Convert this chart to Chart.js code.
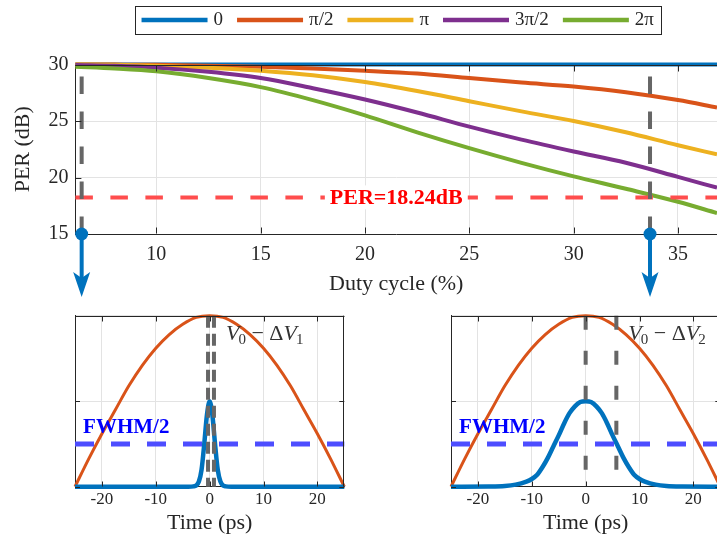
<!DOCTYPE html>
<html>
<head>
<meta charset="utf-8">
<script src="https://cdn.jsdelivr.net/npm/chart.js@4.4.1/dist/chart.umd.min.js"></script>
<style>
  html, body { margin: 0; padding: 0; background: #fff; width: 717px; height: 543px; overflow: hidden; position: relative; }
  canvas { position: absolute; }
  #per { left: 0; top: 0; }
  #pulse1 { left: 0; top: 300px; }
  #pulse2 { left: 376px; top: 300px; }
</style>
</head>
<body>
<canvas id="per" width="717" height="300"></canvas>
<canvas id="pulse1" width="360" height="243"></canvas>
<canvas id="pulse2" width="360" height="243"></canvas>
<script>
// ---- top panel: PER vs duty cycle, one curve per phase ----
var phaseLabels = ['0', 'π/2', 'π', '3π/2', '2π'];
var duty = [6.12, 8, 10, 12.5, 15, 17.5, 20, 22.5, 25, 27.5, 30, 32.5, 35, 36.87];
var perPhase0   = [30, 30, 30, 30, 30, 30, 30, 30, 30, 30, 30, 30, 30, 30];
var perPhaseH   = [30, 29.99, 29.97, 29.9, 29.8, 29.65, 29.45, 29.2, 28.8, 28.4, 28.05, 27.55, 26.85, 26.2];
var perPhasePi  = [30, 29.97, 29.9, 29.72, 29.45, 29.05, 28.45, 27.65, 26.75, 25.85, 25.0, 24.0, 22.85, 22.05];
var perPhase3H  = [29.95, 29.88, 29.72, 29.35, 28.8, 27.9, 26.9, 25.75, 24.5, 23.35, 22.3, 21.3, 20.05, 19.1];
var perPhase2Pi = [29.8, 29.65, 29.4, 28.8, 28.0, 26.85, 25.5, 24.0, 22.6, 21.3, 20.1, 19.0, 17.85, 16.85];
var dutyTicks = [10, 15, 20, 25, 30, 35];
var perTicks = [15, 20, 25, 30];
var perLimit = 18.24;
var dutyMarks = [6.42, 33.66];

// ---- bottom panels: drive and optical pulse vs time ----
var timePs = [-25, -22.5, -20, -17.5, -15, -12.5, -10, -7.5, -5, -2.5, 0, 2.5, 5, 7.5, 10, 12.5, 15, 17.5, 20, 22.5, 25];
var drive  = [0, 0.16, 0.31, 0.45, 0.59, 0.71, 0.81, 0.89, 0.95, 0.99, 1, 0.99, 0.95, 0.89, 0.81, 0.71, 0.59, 0.45, 0.31, 0.16, 0];
var t1 = [-25, -4, -3, -2.5, -2, -1.5, -1, -0.5, 0, 0.5, 1, 1.5, 2, 2.5, 3, 4, 25];
var p1 = [0, 0, 0.002, 0.007, 0.03, 0.1, 0.25, 0.42, 0.5, 0.42, 0.25, 0.1, 0.03, 0.007, 0.002, 0, 0];
var t2 = [-25, -18, -15, -13, -11, -10, -9, -8, -7, -6, -5, -4, -3, -2, -1, 0, 1, 2, 3, 4, 5, 6, 7, 8, 9, 10, 11, 13, 15, 18, 25];
var p2 = [0, 0.001, 0.004, 0.012, 0.03, 0.045, 0.07, 0.115, 0.17, 0.235, 0.3, 0.37, 0.43, 0.47, 0.495, 0.5, 0.495, 0.47, 0.43, 0.37, 0.3, 0.235, 0.17, 0.115, 0.07, 0.045, 0.03, 0.012, 0.004, 0.001, 0];
var marks1 = [-0.3, 0.8];
var marks2 = [0, 5.7];
var timeTicks = [-20, -10, 0, 10, 20];
var levelTicks = [0, 0.5, 1];
var halfLevel = 0.25;

Chart.defaults.font.family = "'Liberation Serif', serif";
Chart.defaults.color = '#262626';
Chart.defaults.animation = false;

var INK = '#262626', GRID = '#e3e3e3';
var colors = ['#0072BD', '#D95319', '#EDB120', '#7E2F8E', '#77AC30'];

function fixedTicks(values) {
  return function (scale) { scale.ticks = values.map(function (v) { return { value: v }; }); };
}
function pts(xs, ys) {
  return xs.map(function (x, i) { return { x: x, y: ys[i] }; });
}
function dashLine(ctx, x1, y1, x2, y2, dash, color, width) {
  ctx.save();
  ctx.strokeStyle = color; ctx.lineWidth = width; ctx.setLineDash(dash);
  ctx.beginPath(); ctx.moveTo(x1, y1); ctx.lineTo(x2, y2); ctx.stroke();
  ctx.restore();
}
function boxAndTicks(chart, len, withRight) {
  var ctx = chart.ctx, a = chart.chartArea, xs = chart.scales.x, ys = chart.scales.y;
  ctx.save();
  ctx.strokeStyle = INK; ctx.lineWidth = 1; ctx.setLineDash([]);
  ctx.beginPath();
  var top = Math.round(a.top) + 0.5, bot = Math.round(a.bottom) - 0.5;
  xs.ticks.forEach(function (t) {
    var x = Math.round(xs.getPixelForValue(t.value)) + 0.5;
    ctx.moveTo(x, bot); ctx.lineTo(x, bot - len);
    ctx.moveTo(x, top); ctx.lineTo(x, top + len);
  });
  ys.ticks.forEach(function (t) {
    var y = Math.round(ys.getPixelForValue(t.value)) + 0.5;
    ctx.moveTo(a.left, y); ctx.lineTo(a.left + len, y);
    if (withRight) { ctx.moveTo(a.right, y); ctx.lineTo(a.right - len, y); }
  });
  ctx.moveTo(a.left, top); ctx.lineTo(a.right, top);
  if (withRight) { var r = Math.round(a.right) - 0.5; ctx.moveTo(r, a.top); ctx.lineTo(r, a.bottom); }
  ctx.stroke();
  ctx.restore();
}

var perDecor = {
  id: 'perDecor',
  afterDatasetsDraw: function (chart) {
    var ctx = chart.ctx, a = chart.chartArea, xs = chart.scales.x, ys = chart.scales.y;
    var yT = ys.getPixelForValue(perLimit);
    dashLine(ctx, a.left, yT, a.right, yT, [17.5, 17.5], '#ff4d4d', 4);
    dutyMarks.forEach(function (d) {
      var x = xs.getPixelForValue(d);
      dashLine(ctx, x, a.bottom, x, a.top, [17.5, 17.5], '#666666', 4);
    });
    // threshold label
    ctx.save();
    ctx.font = "bold 22px 'Liberation Serif'";
    var txt = 'PER=' + perLimit + 'dB';
    var w = ctx.measureText(txt).width;
    var cx = xs.getPixelForValue(21.5);
    ctx.fillStyle = '#ffffff';
    ctx.fillRect(cx - w / 2 - 5, yT - 12, w + 10, 24);
    ctx.fillStyle = '#ff0000';
    ctx.textAlign = 'center'; ctx.textBaseline = 'middle';
    ctx.fillText(txt, cx, yT + 1);
    ctx.restore();
    boxAndTicks(chart, 6, false);
  },
  afterDraw: function (chart) {
    var ctx = chart.ctx, a = chart.chartArea, xs = chart.scales.x;
    ctx.save();
    // arrows to the pulse panels
    ctx.fillStyle = colors[0]; ctx.strokeStyle = colors[0];
    dutyMarks.forEach(function (d) {
      var x = xs.getPixelForValue(d);
      ctx.lineWidth = 4;
      ctx.beginPath(); ctx.moveTo(x, a.bottom); ctx.lineTo(x, 278); ctx.stroke();
      ctx.beginPath(); ctx.arc(x, a.bottom, 6.5, 0, Math.PI * 2); ctx.fill();
      ctx.beginPath();
      ctx.moveTo(x, 297); ctx.lineTo(x - 8.5, 272); ctx.lineTo(x, 278); ctx.lineTo(x + 8.5, 272);
      ctx.closePath(); ctx.fill();
    });
    // legend
    ctx.font = "19px 'Liberation Serif'";
    var lineLen = 66, txtGap = 6, itemGap = 14, pad = 7;
    var widths = phaseLabels.map(function (l) { return ctx.measureText(l).width; });
    var total = 0;
    widths.forEach(function (w, i) { total += lineLen + txtGap + w + (i ? itemGap : 0); });
    var x0 = 397.75 - total / 2;
    ctx.fillStyle = '#ffffff';
    ctx.fillRect(x0 - pad, 6, total + 2 * pad, 28);
    ctx.strokeStyle = INK; ctx.lineWidth = 1;
    ctx.strokeRect(Math.round(x0 - pad) + 0.5, 6.5, Math.round(total + 2 * pad), 28);
    var x = x0;
    ctx.textBaseline = 'middle'; ctx.textAlign = 'left';
    phaseLabels.forEach(function (l, i) {
      ctx.strokeStyle = colors[i]; ctx.lineWidth = 4.5;
      ctx.beginPath(); ctx.moveTo(x, 20); ctx.lineTo(x + lineLen, 20); ctx.stroke();
      ctx.fillStyle = INK;
      ctx.fillText(l, x + lineLen + txtGap, 20);
      x += lineLen + txtGap + widths[i] + itemGap;
    });
    ctx.restore();
  }
};

var perSeries = [perPhase0, perPhaseH, perPhasePi, perPhase3H, perPhase2Pi];
new Chart(document.getElementById('per'), {
  type: 'line',
  data: {
    datasets: perSeries.map(function (s, i) {
      return {
        label: phaseLabels[i], data: pts(duty, s), borderColor: colors[i],
        borderWidth: 4, pointRadius: 0, cubicInterpolationMode: 'monotone',
        order: perSeries.length - 1 - i, clip: false
      };
    })
  },
  options: {
    responsive: false, devicePixelRatio: 1,
    layout: { padding: { top: 64.5, left: 0, right: 0, bottom: 0 } },
    plugins: { legend: { display: false }, tooltip: { enabled: false } },
    scales: {
      x: {
        type: 'linear', min: duty[0], max: duty[duty.length - 1],
        afterBuildTicks: fixedTicks(dutyTicks),
        afterFit: function (s) { s.height = 66; },
        grid: { color: GRID, drawTicks: false },
        border: { color: INK, width: 1 },
        ticks: { font: { size: 20 }, padding: 9, color: INK },
        title: { display: true, text: 'Duty cycle (%)', font: { size: 22 }, padding: { top: 0, bottom: 3 }, color: INK }
      },
      y: {
        min: 15, max: 30,
        afterBuildTicks: fixedTicks(perTicks),
        afterFit: function (s) { s.width = 75.4; },
        grid: { color: GRID, drawTicks: false },
        border: { color: INK, width: 1 },
        ticks: { font: { size: 20 }, padding: 7, color: INK },
        title: { display: true, text: 'PER (dB)', font: { size: 22 }, padding: { top: 10, bottom: 0 }, color: INK }
      }
    }
  },
  plugins: [perDecor]
});

var pulseDecor = {
  id: 'pulseDecor',
  afterDatasetsDraw: function (chart, args, opts) {
    var ctx = chart.ctx, a = chart.chartArea, xs = chart.scales.x, ys = chart.scales.y;
    var yh = ys.getPixelForValue(halfLevel);
    dashLine(ctx, a.left, yh, a.right, yh, [19, 17], '#4d4dff', 5);
    opts.marks.forEach(function (t) {
      var x = xs.getPixelForValue(t);
      dashLine(ctx, x, a.top, x, a.bottom, opts.dash, '#666666', 4);
    });
    boxAndTicks(chart, 5, true);
  },
  afterDraw: function (chart, args, opts) {
    var ctx = chart.ctx, a = chart.chartArea, xs = chart.scales.x, ys = chart.scales.y;
    ctx.save();
    ctx.textBaseline = 'alphabetic'; ctx.textAlign = 'left';
    ctx.fillStyle = '#0000ff';
    ctx.font = "bold 21px 'Liberation Serif'";
    ctx.fillText('FWHM/2', xs.getPixelForValue(-23.5), ys.getPixelForValue(halfLevel) - 11);
    // V0 - dV label
    var x = xs.getPixelForValue(opts.marks[1]) + 12, yb = a.top + 24;
    ctx.fillStyle = '#333333';
    var parts = [
      ["italic 22px 'Liberation Serif'", 'V', 0],
      ["15px 'Liberation Serif'", '0', 4],
      ["22px 'Liberation Serif'", ' − Δ', 0],
      ["italic 22px 'Liberation Serif'", 'V', 0],
      ["15px 'Liberation Serif'", opts.sub, 4]
    ];
    parts.forEach(function (p) {
      ctx.font = p[0];
      ctx.fillText(p[1], x, yb + p[2]);
      x += ctx.measureText(p[1]).width + (p[1] === 'V' ? -1 : 0);
    });
    ctx.restore();
  }
};

function pulseChart(id, tp, pp, marks, dash, sub) {
  return new Chart(document.getElementById(id), {
    type: 'line',
    data: {
      datasets: [
        { data: pts(timePs, drive), borderColor: colors[1], borderWidth: 3, pointRadius: 0,
          cubicInterpolationMode: 'monotone', order: 1, clip: false },
        { data: pts(tp, pp), borderColor: colors[0], borderWidth: 4.5, pointRadius: 0,
          cubicInterpolationMode: 'monotone', order: 0, clip: false }
      ]
    },
    options: {
      responsive: false, devicePixelRatio: 1,
      layout: { padding: { top: 15.7, left: 0, right: 15.7, bottom: 0 } },
      plugins: { legend: { display: false }, tooltip: { enabled: false },
        pulseDecor: { marks: marks, dash: dash, sub: sub } },
      scales: {
        x: {
          type: 'linear', min: -25, max: 25,
          afterBuildTicks: fixedTicks(timeTicks),
          afterFit: function (s) { s.height = 56.3; },
          grid: { color: GRID, drawTicks: false },
          border: { color: INK, width: 1 },
          ticks: { font: { size: 17 }, padding: 3, color: INK },
          title: { display: true, text: 'Time (ps)', font: { size: 22 }, padding: { top: 0, bottom: 7 }, color: INK }
        },
        y: {
          min: 0, max: 1,
          afterBuildTicks: fixedTicks(levelTicks),
          afterFit: function (s) { s.width = 75; },
          grid: { color: GRID, drawTicks: false },
          border: { color: INK, width: 1 },
          ticks: { display: false }
        }
      }
    },
    plugins: [pulseDecor]
  });
}

pulseChart('pulse1', t1, p1, marks1, [12, 6], '1');
pulseChart('pulse2', t2, p2, marks2, [14, 21], '2');
</script>
</body>
</html>
